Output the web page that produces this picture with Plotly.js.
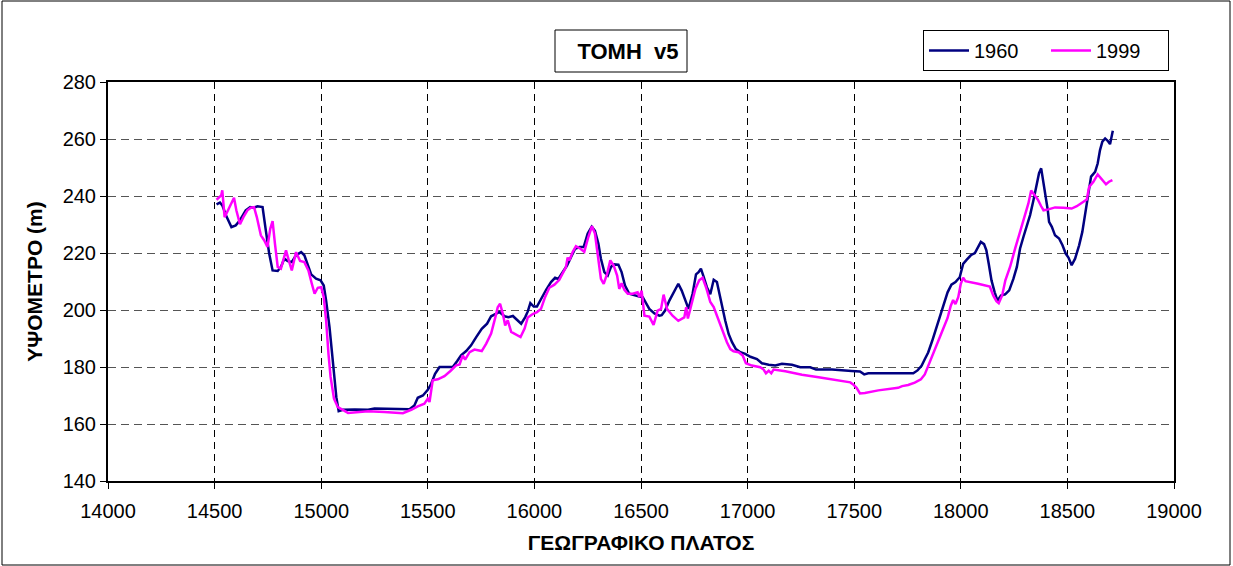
<!DOCTYPE html>
<html>
<head>
<meta charset="utf-8">
<script src="https://cdn.plot.ly/plotly-3.0.1.min.js"></script>
<style>
html,body{margin:0;padding:0;background:#fff;overflow:hidden;}
#chart{width:1233px;height:566px;}
</style>
</head>
<body>
<div id="chart"></div>
<script>
const chartTitle = 'ΤΟΜΗ\u00a0\u00a0v5';
const xTitle = 'ΓΕΩΓΡΑΦΙΚΟ ΠΛΑΤΟΣ';
const yTitle = 'ΥΨΟΜΕΤΡΟ (m)';
const seriesNames = ['1960', '1999'];

const x1960 = [14509,14525,14536,14557,14579,14599,14619,14646,14667,14685,14701,14725,14740,14756,14772,14796,14811,14827,14843,14862,14882,14906,14921,14937,14953,14976,14997,15012,15023,15039,15055,15071,15082,15102,15157,15220,15250,15328,15414,15437,15453,15477,15500,15516,15534,15555,15617,15638,15656,15680,15703,15727,15753,15778,15797,15821,15836,15860,15878,15899,15922,15938,15957,15969,15981,15997,16012,16031,16055,16078,16097,16112,16133,16153,16172,16191,16211,16231,16250,16269,16284,16300,16312,16328,16344,16359,16372,16394,16409,16425,16445,16469,16492,16508,16523,16539,16563,16586,16597,16613,16633,16656,16675,16691,16711,16723,16742,16758,16770,16781,16794,16809,16825,16841,16856,16867,16880,16895,16911,16927,16945,16966,16989,17013,17044,17067,17099,17130,17161,17208,17247,17294,17321,17396,17488,17527,17547,17566,17644,17777,17797,17816,17831,17847,17866,17886,17906,17922,17938,17956,17975,17995,18011,18027,18047,18066,18078,18094,18109,18120,18131,18144,18159,18172,18188,18208,18227,18247,18263,18278,18294,18309,18325,18341,18356,18367,18377,18388,18398,18408,18414,18427,18442,18461,18477,18492,18505,18520,18536,18555,18570,18583,18595,18611,18630,18642,18653,18664,18677,18689,18700,18705,18713];
const y1960 = [237.1,237.7,236.7,232.6,229.1,229.7,231.5,235,236.1,235.9,236.4,236.1,228,219.8,213.9,213.7,215.1,218,217.2,216.8,219.2,220.3,219.2,216.2,212.5,211,210.4,208.6,203.4,194,181.1,169.4,164.5,165,165.1,165,165.4,165.2,165.2,166.5,169.2,170,172,174.1,177.6,180,180,182.1,184.1,185.6,187.6,190.5,193.4,195.2,197.8,198.7,199.3,197.8,197.5,197.9,196.4,195.2,197.5,199.5,202.4,201.2,201.2,203.9,207.1,209.8,211.3,210.9,213.3,215.6,218.6,221.5,222.1,222.1,226.8,229.2,227.8,223.3,218,213.3,212.1,215.1,216,215.9,213.3,208.6,205.7,205.1,204.7,204.5,202.7,200.4,198.8,198,198.2,199.8,203.3,206.8,209.2,206.8,202.7,200.4,205.7,212.5,213.3,214.5,211.6,208,205.5,210.6,209.8,205.7,201,196.3,191.6,188.7,186.3,185.2,184.6,183.6,182.8,181.3,180.8,180.5,181.1,180.8,179.9,179.9,179.1,179.1,178.6,178.4,177.4,177.8,177.8,177.8,178.8,180.4,182.7,185.1,189.2,193.9,198.4,202.7,206.2,208.9,209.8,211.5,216.2,217.6,219.2,220,221.5,223.9,223.1,220.9,216.2,210.4,206.2,203.3,205.1,205.5,206.9,211,215.1,221.6,225.7,229.2,233.3,238.6,244.4,248,249.7,245,239.8,235,230.9,229.2,226.2,225.1,222.7,219.8,218.4,215.7,218,222.7,227.4,233.3,240.3,246.8,248.5,251.4,256.1,259.1,260.2,259.4,258.2,260.2,262.9];

const x1999 = [14509,14520,14531,14536,14547,14563,14579,14591,14602,14619,14635,14654,14670,14685,14698,14717,14733,14748,14761,14772,14783,14796,14811,14835,14848,14862,14882,14901,14921,14940,14956,14969,14984,15000,15012,15023,15034,15044,15060,15078,15126,15220,15297,15383,15422,15453,15484,15500,15508,15523,15547,15578,15606,15633,15649,15664,15675,15696,15719,15753,15774,15797,15817,15828,15839,15852,15863,15875,15891,15914,15935,15954,15969,15992,16012,16031,16050,16070,16094,16117,16138,16148,16156,16164,16180,16195,16216,16234,16253,16270,16284,16297,16312,16325,16341,16356,16372,16388,16398,16409,16422,16438,16461,16484,16492,16503,16516,16539,16559,16578,16594,16606,16622,16648,16675,16703,16712,16720,16736,16755,16773,16789,16805,16825,16841,16864,16887,16903,16919,16934,16958,16977,16992,17020,17059,17075,17086,17099,17111,17122,17177,17255,17333,17411,17482,17495,17511,17527,17550,17613,17706,17725,17753,17784,17813,17831,17850,17870,17894,17917,17938,17953,17964,17975,17988,18000,18011,18022,18081,18136,18152,18167,18178,18194,18209,18231,18255,18278,18302,18317,18330,18341,18361,18377,18388,18411,18442,18481,18520,18544,18567,18591,18602,18622,18642,18661,18681,18695,18711];
const y1999 = [238.7,239.6,240.2,242,232.6,235,237.9,239.4,235,230.1,232.6,235,235.9,236.1,232.6,226.2,224.4,222.1,228.5,231.2,223.3,215.1,214.5,220.9,217.4,213.9,220.3,217.2,216.8,213.9,209.2,205.7,207.8,208,204.5,196.4,184.7,176.5,168.9,165.9,163.9,164.5,164.2,163.8,165,166.2,167.1,168.9,167.7,175.3,175.7,176.8,178.6,180.6,180.9,184.1,182.6,185.2,186.1,185.6,188.2,191.7,197.5,201,202.2,198.7,194.6,196.4,192.3,191.3,190.5,193.5,197.4,198.6,199.2,200.4,204.5,207.8,208.9,210.6,213.9,215.1,218.4,217.4,220.4,222.4,221.5,220.4,225.6,229.4,226.8,218.6,210.9,209.2,212.7,217.4,215.6,212.1,207.4,209.4,207.1,205.7,205.7,206.2,204.5,206.8,198,197.7,194.8,199.8,200.4,205.4,200.4,198,196.2,197.4,201,197,202.2,207.4,210.4,211.3,208,202.8,201,196.3,191.6,188.7,186.3,185.5,185.2,184,181.3,180.5,179.9,179.1,177.8,178.7,177.8,179.1,178.5,177.3,176.4,175.4,174.6,173.9,172.7,170.7,170.9,171.8,172.7,173.3,173.7,174.5,175.7,177.4,181,185.1,189.2,193.3,197.2,201.5,203.5,202.1,204.5,209.2,211.3,210.1,209.2,208.2,205.1,203.1,202.4,205.1,210.4,215.1,221.6,227.4,233.3,237.4,241.9,240.9,238.8,236.4,235,235.3,236,235.9,235.6,236.4,237.6,238.8,243.2,245,247.6,245.8,244.1,245,245.6];

const FONT = 'Liberation Sans, Arial, sans-serif';

const traces = [
  {x: x1960, y: y1960, name: seriesNames[0], type: 'scatter', mode: 'lines',
   line: {color: '#000080', width: 2.5}},
  {x: x1999, y: y1999, name: seriesNames[1], type: 'scatter', mode: 'lines',
   line: {color: '#FF00FF', width: 2.5}}
];

const layout = {
  width: 1233, height: 566,
  margin: {l: 108, r: 59, t: 82, b: 85, autoexpand: false},
  paper_bgcolor: '#fff', plot_bgcolor: '#fff',
  font: {family: FONT, color: '#000', size: 20},
  title: {text: '<b>' + chartTitle + '</b>', x: 628/1233, xanchor: 'center', xref: 'container',
          y: 1 - 51/566, yanchor: 'middle', yref: 'container',
          font: {family: FONT, size: 22, color: '#000'}},
  showlegend: true,
  legend: {orientation: 'h', x: (923-108)/1066, y: (481-30)/399, xanchor: 'left', yanchor: 'top',
           bordercolor: '#000', borderwidth: 1, bgcolor: '#fff',
           font: {family: FONT, size: 20, color: '#000'},
           itemwidth: 40, tracegroupgap: 0, entrywidth: 67, entrywidthmode: 'pixels'},
  xaxis: {range: [14000, 19000], dtick: 500, tick0: 14000, tickformat: 'd',
          title: {text: '<b>' + xTitle + '</b>', font: {family: FONT, size: 21}, standoff: 14},
          ticks: 'outside', ticklen: 6, tickcolor: '#000', tickwidth: 1, ticklabelstandoff: 5,
          showline: true, linecolor: '#000', linewidth: 2, mirror: true,
          showgrid: true, gridcolor: '#000', gridwidth: 1, griddash: '7px,5px',
          zeroline: false, tickfont: {family: FONT, size: 20}},
  yaxis: {range: [140, 280], dtick: 20, tick0: 140, tickformat: 'd',
          title: {text: '<b>' + yTitle + '</b>', font: {family: FONT, size: 21}, standoff: 14},
          ticks: 'outside', ticklen: 6, tickcolor: '#000', tickwidth: 1,
          showline: true, linecolor: '#000', linewidth: 2, mirror: true,
          showgrid: true, gridcolor: '#555', gridwidth: 1, griddash: '8px,5px',
          zeroline: false, tickfont: {family: FONT, size: 20}},
  shapes: [
    {type: 'rect', xref: 'paper', yref: 'paper',
     x0: (555-108)/1066, x1: (687-108)/1066, y0: (481-72)/399, y1: (481-30)/399,
     line: {color: '#000', width: 1}, fillcolor: 'rgba(0,0,0,0)'},
    {type: 'rect', xref: 'paper', yref: 'paper',
     x0: (2-108)/1066, x1: (1230-108)/1066, y0: (481-565)/399, y1: (481-1)/399,
     line: {color: '#000', width: 1}, fillcolor: 'rgba(0,0,0,0)'}
  ]
};

Plotly.newPlot('chart', traces, layout, {displayModeBar: false, staticPlot: true});
</script>
</body>
</html>
